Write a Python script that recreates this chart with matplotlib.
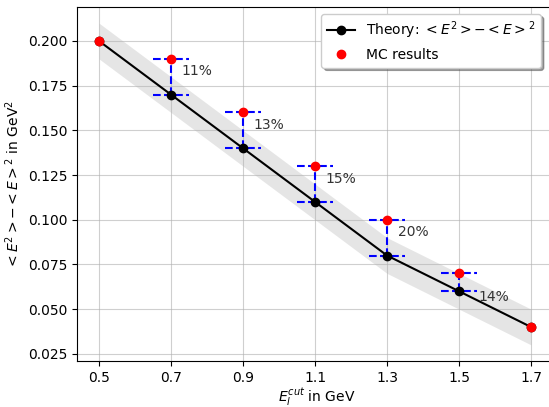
import matplotlib
matplotlib.use("Agg")
import matplotlib.pyplot as plt
import numpy as np

e_cut = [0.5, 0.7, 0.9, 1.1, 1.3, 1.5, 1.7]
theory = [0.20, 0.17, 0.14, 0.11, 0.08, 0.06, 0.04]
band = 0.01
mc = [0.20, 0.19, 0.16, 0.13, 0.10, 0.07, 0.04]

# deviations marked on the plot
dev_x = [0.7, 0.9, 1.1, 1.3, 1.5]
dev_labels = ["11%", "13%", "15%", "20%", "14%"]
label_x = [0.73, 0.93, 1.13, 1.33, 1.553]
label_y = [0.183, 0.153, 0.123, 0.093, 0.057]

fig = plt.figure(figsize=(5.49, 4.07), dpi=100)
ax = fig.add_axes([77/549, 46/407, 480/549, 354/407])

th = np.array(theory)
ax.fill_between(e_cut, th - band, th + band, color="gray", alpha=0.2, lw=0)
ax.plot(e_cut, theory, "k-o", label=r"Theory: $<E^2> - <E>^2$", zorder=3)
ax.plot(e_cut, mc, "ro", ls="none", label="MC results", zorder=4)

for x in dev_x:
    i = e_cut.index(x)
    ax.plot([x - 0.05, x + 0.05], [theory[i], theory[i]], "b--", zorder=2)
    ax.plot([x - 0.05, x + 0.05], [mc[i], mc[i]], "b--", zorder=2)
    ax.plot([x, x], [theory[i], mc[i]], "b--", zorder=2)

for lx, ly, t in zip(label_x, label_y, dev_labels):
    ax.text(lx, ly, t, va="center", ha="left", fontsize=10, color="#333333")

ax.set_xticks(e_cut)
ax.set_xticklabels([str(x) for x in e_cut])
ax.set_xlim(0.439, 1.772)
ax.set_ylim(0.021, 0.219)
ax.set_yticks([0.025, 0.05, 0.075, 0.1, 0.125, 0.15, 0.175, 0.2])
ax.grid(True, alpha=0.6)
ax.set_xlabel(r"$E_l^{cut}$ in GeV", labelpad=1)
ax.set_ylabel(r"$<E^2> - <E>^2$ in GeV$^2$")
ax.legend(loc="upper right", shadow=True, bbox_to_anchor=(0.981, 1.0))

fig.savefig("out.png", dpi=100)
